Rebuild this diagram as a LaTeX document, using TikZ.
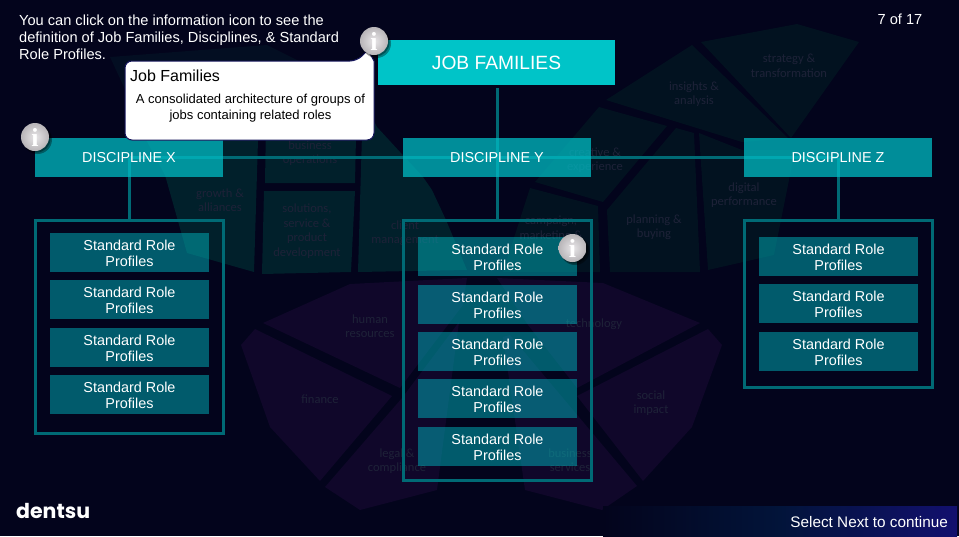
\documentclass[tikz,border=0pt]{standalone}
\usepackage{fontspec}
\setmainfont{Liberation Sans}
\newfontfamily\bgfont{Carlito}
\newfontfamily\logofont{Poppins}
\newfontfamily\serifi{Liberation Serif}
\definecolor{bgnavy}{HTML}{03041C}
\definecolor{tealA}{HTML}{01202B}
\definecolor{tealB}{HTML}{021220}
\definecolor{tealC}{HTML}{030E22}
\definecolor{purp}{HTML}{10072A}
\definecolor{faint}{HTML}{1E2238}
\definecolor{linec}{HTML}{006A75}
\definecolor{srpc}{HTML}{00B2BC}
\definecolor{disc}{HTML}{00BCC4}
\definecolor{barc}{HTML}{12106E}
\definecolor{barm}{HTML}{02143A}
\definecolor{jobc}{HTML}{00C4C8}
\definecolor{popb}{HTML}{14145A}
\definecolor{iconlight}{HTML}{E8E6E8}
\definecolor{icondark}{HTML}{B8B5B8}
\tikzset{
  px/.style={x=1pt,y=-1pt},
  bglabel/.style={font=\bgfont\fontsize{12.5}{14.5}\selectfont,text=faint,align=center,inner sep=0pt},
  srp/.style={fill=srpc,fill opacity=.5,text opacity=1,text=white,draw=none,minimum width=159pt,minimum height=39pt,inner sep=0pt,align=center,font=\fontsize{14.4}{16}\selectfont},
  discipline/.style={fill=disc,fill opacity=.75,text opacity=1,text=white,minimum width=188pt,minimum height=39pt,inner sep=0pt,font=\fontsize{14.4}{16}\selectfont},
  frame/.style={draw=linec,line width=3pt,inner sep=0pt},
  link/.style={draw=linec,line width=3pt},
  plaintext/.style={text=white,inner sep=0pt}
}
\newcommand{\infoicon}[2]{%
  \fill[black,opacity=.35] (#1+2.5,#2+2.5) circle[radius=14.5];
  \fill[black,opacity=.35] (#1+1.5,#2+1.5) circle[radius=14];
  \shade[inner color=iconlight,outer color=icondark,draw=none] (#1,#2) circle[radius=14];
  \node[inner sep=0pt,text=white,font=\serifi\bfseries\fontsize{26}{26}\selectfont] at (#1,#2) {i};
}
\begin{document}
\begin{tikzpicture}[px]
\useasboundingbox (0,0) rectangle (959,536);
\fill[bgnavy] (0,0) rectangle (959,536);
% background shapes
\fill[tealC] (110,57) -- (267,45) -- (357,90) -- (258,140) -- (165,175) -- cycle;
\fill[tealA] (125,100) -- (258,100) -- (258,140) -- (254,272) -- (187,253) -- (165,175) -- cycle;
\fill[tealA] (267,62) -- (357,90) -- (355,183) -- (265,183) -- cycle;
\fill[tealA] (264,191) -- (355,191) -- (351,272) -- (262,274) -- cycle;
\fill[tealA] (363,100) -- (377,127) -- (423,177) -- (432,190) -- (446,220) -- (467,270) -- (358,272) -- cycle;
\fill[tealB] (701,42) -- (797,24) -- (859,42) -- (791,138) -- cycle;
\fill[tealB] (692,45) -- (788,138) -- (742,142) -- (606,100) -- cycle;
\fill[tealB] (599,107) -- (667,126) -- (603,202) -- (535,182) -- cycle;
\fill[tealB] (676,128) -- (694,133) -- (700,272) -- (610,272) -- (607,210) -- cycle;
\fill[tealB] (699,133) -- (742,150) -- (795,150) -- (774,255) -- (708,270) -- cycle;
\fill[tealB] (530,188) -- (598,206) -- (600,272) -- (503,272) -- cycle;
\fill[purp] (263,323) -- (350,284) -- (467,278) -- (463,305) -- (400,388) -- cycle;
\fill[purp] (255,329) -- (241,345) -- (270,427) -- (320,481) -- (392,396) -- cycle;
\fill[purp] (325,487) -- (360,510) -- (437,490) -- (459,322) -- (402,398) -- cycle;
\fill[purp] (497,278) -- (603,283) -- (700,323) -- (577,388) -- (528,325) -- cycle;
\fill[purp] (708,329) -- (722,345) -- (692,427) -- (643,481) -- (577,396) -- cycle;
\fill[purp] (637,486) -- (602,510) -- (525,490) -- (503,337) -- (510,335) -- cycle;
% background labels
\node[bglabel] (b1) at (789,66) {strategy \&\\transformation};
\node[bglabel] (b2) at (694,94) {insights \&\\analysis};
\node[bglabel] (b3) at (595,160) {creative \&\\experience};
\node[bglabel] (b4) at (744,195) {digital\\performance};
\node[bglabel] (b5) at (654,227) {planning \&\\buying};
\node[bglabel] (b6) at (551,229) {campaign,\\marketing \&};
\node[bglabel] (b7) at (405,233) {client\\management};
\node[bglabel] (b8) at (307,231) {solutions,\\service \&\\product\\development};
\node[bglabel] (b9) at (220,200) {growth \&\\alliances};
\node[bglabel] (b10) at (310,153) {business\\operations};
\node[bglabel] (b11) at (370,326) {human\\resources};
\node[bglabel] (b12) at (320,399) {finance};
\node[bglabel] (b13) at (397,461) {legal \&\\compliance};
\node[bglabel] (b14) at (594,324) {technology};
\node[bglabel] (b15) at (651,403) {social\\impact};
\node[bglabel] (b16) at (570,460) {business\\services};
% bottom bar
\shade[left color=bgnavy,right color=barc,middle color=barm] (603,506) rectangle (957,536);
% frames
\node[frame,minimum width=188pt,minimum height=213pt] (fx) at (129.5,326.5) {};
\node[frame,minimum width=188pt,minimum height=260pt] (fy) at (497.5,350) {};
\node[frame,minimum width=188pt,minimum height=167pt] (fz) at (838,303.5) {};
% discipline anchors for connectors
\coordinate (cx) at (129.5,157.5);
\coordinate (cy) at (497.5,157.5);
\coordinate (cz) at (838,157.5);
\coordinate (jb) at (497.5,88);
\draw[link] (cx) -- (cz);
\draw[link] (jb) -- (cy);
\draw[link] (cy) -- (fy.north);
\draw[link] (cx) -- (fx.north);
\draw[link] (cz) -- (fz.north);
% top nodes
\node[fill=jobc,text=white,minimum width=237pt,minimum height=45pt,inner sep=0pt,font=\fontsize{19.2}{20}\selectfont] (job) at (496.5,62.5) {JOB FAMILIES};
\node[discipline] (dx) at (129,157.5) {\raisebox{-.8pt}{DISCIPLINE X}};
\node[discipline] (dy) at (497,157.5) {\raisebox{-.8pt}{DISCIPLINE Y}};
\node[discipline] (dz) at (838,157.5) {\raisebox{-.8pt}{DISCIPLINE Z}};
% standard role profiles
\node[srp] (x1) at (129.5,252.5) {\strut\smash{Standard Role}\\\smash{Profiles}};
\node[srp] (x2) at (129.5,299.5) {\strut\smash{Standard Role}\\\smash{Profiles}};
\node[srp] (x3) at (129.5,347.5) {\strut\smash{Standard Role}\\\smash{Profiles}};
\node[srp] (x4) at (129.5,394.5) {\strut\smash{Standard Role}\\\smash{Profiles}};
\node[srp] (y1) at (497.5,256.5) {\strut\smash{Standard Role}\\\smash{Profiles}};
\node[srp] (y2) at (497.5,304.5) {\strut\smash{Standard Role}\\\smash{Profiles}};
\node[srp] (y3) at (497.5,351.5) {\strut\smash{Standard Role}\\\smash{Profiles}};
\node[srp] (y4) at (497.5,398.5) {\strut\smash{Standard Role}\\\smash{Profiles}};
\node[srp] (y5) at (497.5,446.5) {\strut\smash{Standard Role}\\\smash{Profiles}};
\node[srp] (z1) at (838.5,256.5) {\strut\smash{Standard Role}\\\smash{Profiles}};
\node[srp] (z2) at (838.5,303.5) {\strut\smash{Standard Role}\\\smash{Profiles}};
\node[srp] (z3) at (838.5,351.5) {\strut\smash{Standard Role}\\\smash{Profiles}};
% texts
\node[plaintext,anchor=north west,align=left,font=\fontsize{14.6}{16.8}\selectfont] (intro) at (19,15) {You can click on the information icon to see the\\definition of Job Families, Disciplines, \& Standard\\Role Profiles.};
\node[plaintext,font=\fontsize{14.6}{16}\selectfont] (page) at (900,19) {7 of 17};
\node[plaintext,anchor=east,font=\fontsize{15.3}{18}\selectfont] (next) at (948,522.5) {Select Next to continue};
\node[plaintext,anchor=west,font=\logofont\bfseries\fontsize{20.5}{22}\selectfont] (logo) at (16,511) {dentsu};
% popup
\draw[fill=white,draw=popb,line width=1pt,rounded corners=7pt] (125,61) -- (357,61) [sharp corners] -- (368,50) -- (374,61) [rounded corners=7pt] -- (374,140) -- (125,140) -- cycle;
\node[inner sep=0pt,anchor=west,text=black,font=\fontsize{16}{18}\selectfont] (ptitle) at (130,76) {Job Families};
\node[inner sep=0pt,text=black,align=center,font=\fontsize{13}{16}\selectfont] (pbody) at (250.5,108) {A consolidated architecture of groups of\\jobs containing related roles};
% icons
\infoicon{374}{41}
\infoicon{35}{137}
\infoicon{572.5}{248}
\end{tikzpicture}
\end{document}
